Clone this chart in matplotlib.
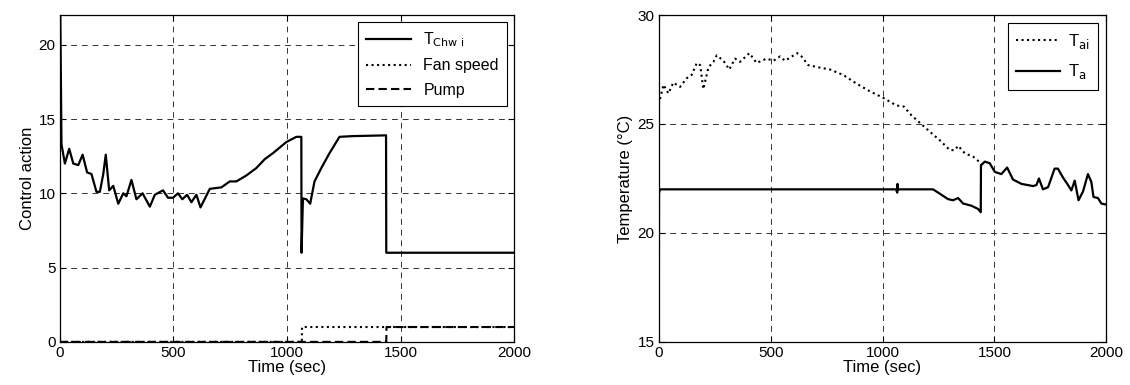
import matplotlib
import matplotlib.pyplot as plt

matplotlib.use("Agg")

plt.rcParams["font.family"] = ["Liberation Sans", "DejaVu Sans"]
plt.rcParams["font.size"] = 11

# left panel: control actions
t_chw = [0, 7, 22, 41, 59, 81, 100, 120, 139, 161, 176, 191, 202, 217, 235, 257, 279, 293,
         315, 337, 364, 396, 418, 454, 476, 498, 520, 539, 560, 579, 601, 619, 660, 711,
         748, 777, 821, 865, 902, 938, 997, 1041, 1063, 1064, 1070, 1085, 1102, 1121, 1151,
         1187, 1231, 1290, 1436, 1437, 2000]
chw = [25, 13.3, 12.0, 13.0, 12.0, 11.9, 12.6, 11.4, 11.3, 10.1, 10.1, 11.3, 12.6, 10.2,
       10.5, 9.3, 10.0, 9.8, 10.9, 9.6, 10.0, 9.1, 9.9, 10.2, 9.7, 9.7, 10.0, 9.6, 9.9, 9.4,
       9.9, 9.05, 10.3, 10.4, 10.8, 10.8, 11.2, 11.7, 12.3, 12.7, 13.45, 13.8, 13.8, 6.0,
       9.65, 9.6, 9.3, 10.8, 11.7, 12.7, 13.8, 13.85, 13.9, 6.0, 6.0]
t_fan = [0, 1065, 1066, 2000]
fan = [0, 0, 1, 1]
t_pump = [0, 1437, 1438, 2000]
pump = [0, 0, 1, 1]

# right panel: temperatures
t_ai = [0, 1, 6, 21, 43, 65, 95, 125, 147, 170, 185, 199, 222, 244, 259, 289, 315, 341, 363,
        405, 437, 482, 512, 542, 564, 595, 619, 638, 668, 713, 765, 824, 884, 943, 1003,
        1062, 1095, 1129, 1167, 1211, 1256, 1301, 1323, 1338, 1368, 1405, 1434, 1442]
tai = [15, 26.0, 26.17, 26.8, 26.4, 26.9, 26.7, 27.1, 27.25, 27.8, 27.7, 26.6, 27.6, 27.85,
       28.15, 27.9, 27.5, 28.0, 27.85, 28.25, 27.8, 28.0, 27.9, 28.1, 27.9, 28.1, 28.25, 28.1,
       27.7, 27.6, 27.5, 27.25, 26.85, 26.5, 26.2, 25.85, 25.8, 25.4, 25.05, 24.65, 24.25,
       23.8, 23.8, 24.0, 23.65, 23.5, 23.25, 23.15]
t_a = [0, 1, 5, 1060, 1066, 1067, 1069, 1226, 1256, 1293, 1315, 1338, 1360, 1397, 1427, 1439,
       1440, 1457, 1479, 1502, 1531, 1557, 1583, 1621, 1673, 1688, 1699, 1717, 1740, 1769,
       1784, 1806, 1829, 1844, 1859, 1876, 1896, 1918, 1933, 1943, 1963, 1978, 2000]
ta = [15, 21.8, 22.0, 22.0, 21.85, 22.25, 22.0, 22.0, 21.8, 21.55, 21.5, 21.6, 21.35, 21.25,
      21.1, 20.95, 23.1, 23.27, 23.2, 22.8, 22.7, 23.0, 22.45, 22.25, 22.15, 22.2, 22.5, 22.0,
      22.1, 22.95, 22.95, 22.55, 22.2, 21.95, 22.4, 21.5, 21.9, 22.7, 22.35, 21.65, 21.6,
      21.35, 21.3]


def style(ax):
    ax.grid(True, color="#333333", linestyle=(0, (6, 5)), linewidth=0.7)
    ax.tick_params(direction="in", top=True, right=True, length=4, width=0.8,
                   labelsize=11, pad=3)
    for s in ax.spines.values():
        s.set_linewidth(0.9)
    ax.set_xlim(0, 2000)
    ax.set_xticks([0, 500, 1000, 1500, 2000])
    ax.set_xlabel("Time (sec)", labelpad=0, fontsize=12)


fig = plt.figure(figsize=(11.3, 3.85), dpi=100)
ax1 = fig.add_axes([0.053, 0.112, 0.402, 0.849])
ax2 = fig.add_axes([0.583, 0.112, 0.396, 0.849])

ax1.plot(t_chw, chw, color="black", lw=1.6, label="T$_{\\mathrm{Chw\\ i}}$")
ax1.plot(t_fan, fan, color="black", lw=1.5, ls=":", label="Fan speed")
ax1.plot(t_pump, pump, color="black", lw=1.5, ls=(0, (4, 2)), label="Pump")
style(ax1)
ax1.set_ylim(0, 22)
ax1.set_yticks([0, 5, 10, 15, 20])
ax1.set_ylabel("Control action", labelpad=3, fontsize=12)
leg = ax1.legend(loc="upper right", fancybox=False, edgecolor="black", framealpha=1,
                 borderaxespad=0.45, handlelength=2.8, labelspacing=0.6, fontsize=11.5,
                 borderpad=0.5)
leg.get_frame().set_linewidth(0.8)

ax2.plot(t_ai, tai, color="black", lw=1.5, ls=":", label="T$_{\\mathrm{ai}}$")
ax2.plot(t_a, ta, color="black", lw=1.6, label="T$_{\\mathrm{a}}$")
style(ax2)
ax2.set_ylim(15, 30)
ax2.set_yticks([15, 20, 25, 30])
ax2.set_ylabel("Temperature (\u00b0C)", labelpad=3, fontsize=12)
leg = ax2.legend(loc="upper right", fancybox=False, edgecolor="black", framealpha=1,
                 borderaxespad=0.5, handlelength=2.6, labelspacing=0.7, fontsize=12,
                 borderpad=0.5, handletextpad=0.5)
leg.get_frame().set_linewidth(0.8)

fig.savefig("out.png", dpi=100, facecolor="white")
